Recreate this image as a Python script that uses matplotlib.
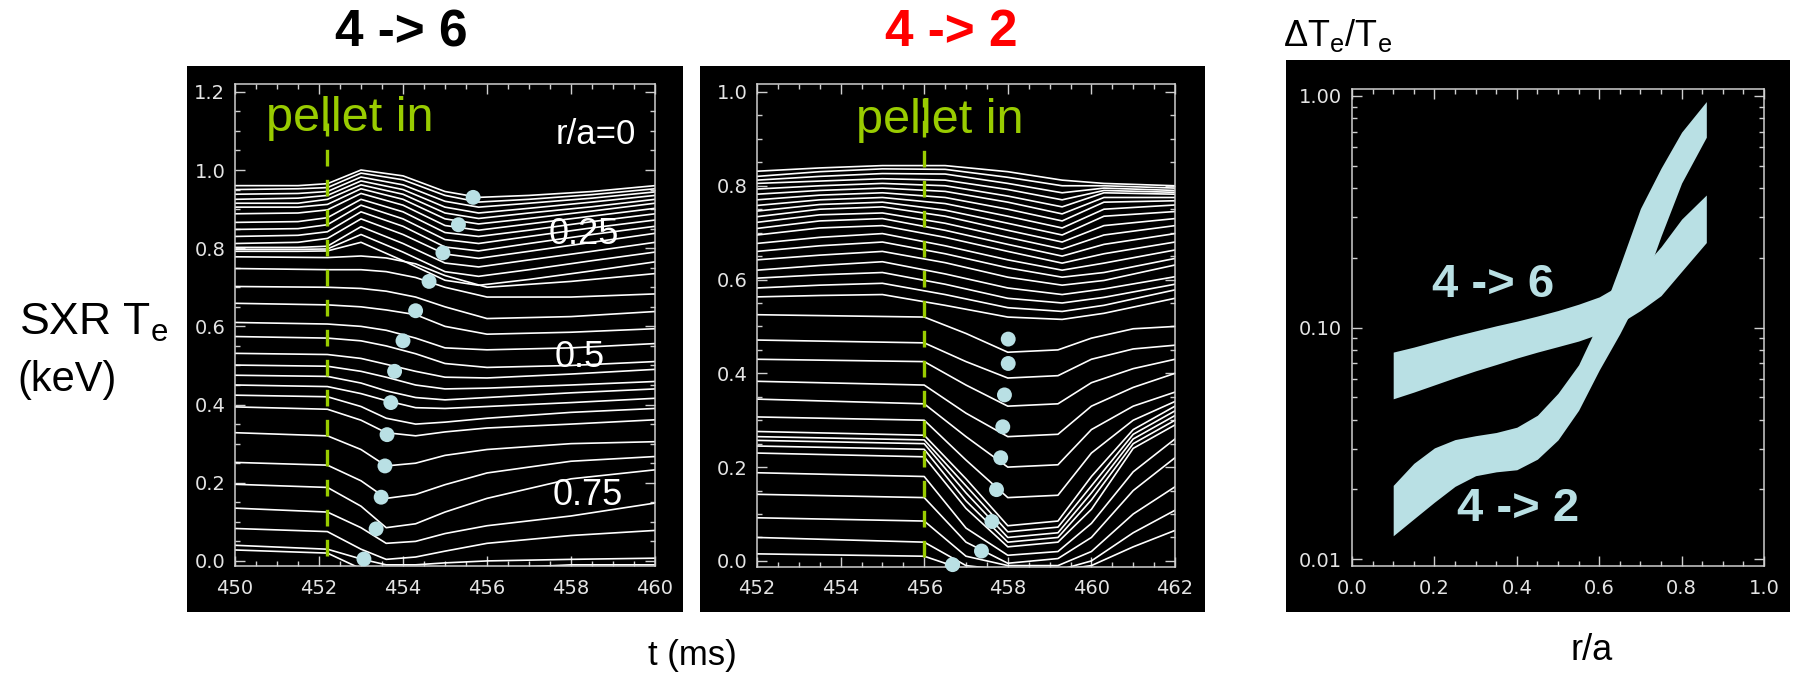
import matplotlib
matplotlib.use("Agg")
import matplotlib.pyplot as plt
from matplotlib.ticker import MultipleLocator, FixedLocator, LogLocator, NullFormatter

plt.rcParams['font.family'] = ['Liberation Sans', 'DejaVu Sans']
plt.rcParams['mathtext.fontset'] = 'custom'
plt.rcParams['mathtext.rm'] = 'Liberation Sans'

# ---- left panel (4 -> 6): SXR Te traces [keV] vs t [ms] ----
t_left_low = [450, 452.2, 453.0, 453.6, 454.3, 455.0, 456.0, 458.0, 460.0]
te_left_low = [
    [0.028, 0.020, -0.020, -0.030, -0.030, -0.030, -0.020, -0.010, -0.010],
    [0.040, 0.030, 0.005, -0.010, -0.010, -0.005, 0.000, 0.004, 0.007],
    [0.083, 0.075, 0.030, 0.004, 0.010, 0.025, 0.045, 0.065, 0.078],
    [0.135, 0.125, 0.085, 0.045, 0.050, 0.070, 0.090, 0.115, 0.148],
    [0.196, 0.188, 0.140, 0.085, 0.095, 0.125, 0.160, 0.210, 0.233],
    [0.252, 0.245, 0.205, 0.160, 0.170, 0.195, 0.225, 0.255, 0.267],
    [0.328, 0.320, 0.285, 0.243, 0.250, 0.270, 0.285, 0.300, 0.305],
    [0.394, 0.388, 0.360, 0.328, 0.320, 0.330, 0.340, 0.350, 0.361],
    [0.424, 0.420, 0.395, 0.365, 0.350, 0.355, 0.365, 0.380, 0.390],
    [0.450, 0.446, 0.428, 0.410, 0.392, 0.390, 0.395, 0.405, 0.416],
    [0.475, 0.472, 0.455, 0.435, 0.418, 0.412, 0.418, 0.430, 0.440],
    [0.501, 0.498, 0.485, 0.470, 0.450, 0.440, 0.442, 0.450, 0.459],
    [0.531, 0.528, 0.518, 0.503, 0.485, 0.470, 0.468, 0.478, 0.490],
    [0.574, 0.570, 0.563, 0.550, 0.530, 0.505, 0.495, 0.500, 0.510],
    [0.610, 0.606, 0.600, 0.590, 0.570, 0.545, 0.540, 0.545, 0.556],
    [0.659, 0.655, 0.650, 0.642, 0.630, 0.600, 0.580, 0.585, 0.594],
    [0.702, 0.700, 0.697, 0.690, 0.675, 0.650, 0.620, 0.625, 0.638],
    [0.748, 0.745, 0.745, 0.740, 0.725, 0.700, 0.675, 0.675, 0.683],
    [0.778, 0.776, 0.780, 0.775, 0.760, 0.730, 0.700, 0.715, 0.735],
]
t_left_up = [450, 451.5, 452.2, 453.0, 454.0, 455.0, 455.8, 457.0, 458.5, 460.0]
te_left_up = [
    [0.960, 0.960, 0.965, 1.000, 0.985, 0.945, 0.930, 0.935, 0.945, 0.960],
    [0.950, 0.952, 0.955, 0.992, 0.975, 0.935, 0.918, 0.925, 0.937, 0.952],
    [0.938, 0.940, 0.945, 0.982, 0.962, 0.920, 0.905, 0.915, 0.928, 0.944],
    [0.925, 0.928, 0.935, 0.972, 0.950, 0.905, 0.890, 0.902, 0.918, 0.935],
    [0.915, 0.915, 0.925, 0.962, 0.938, 0.890, 0.876, 0.890, 0.906, 0.925],
    [0.905, 0.905, 0.912, 0.952, 0.925, 0.875, 0.862, 0.876, 0.895, 0.915],
    [0.888, 0.890, 0.898, 0.940, 0.910, 0.858, 0.846, 0.862, 0.882, 0.902],
    [0.866, 0.868, 0.878, 0.925, 0.893, 0.840, 0.830, 0.846, 0.868, 0.888],
    [0.848, 0.850, 0.860, 0.910, 0.875, 0.822, 0.812, 0.830, 0.852, 0.872],
    [0.830, 0.833, 0.842, 0.893, 0.856, 0.803, 0.793, 0.812, 0.835, 0.856],
    [0.812, 0.815, 0.825, 0.875, 0.835, 0.785, 0.774, 0.792, 0.815, 0.838],
    [0.802, 0.802, 0.805, 0.855, 0.812, 0.762, 0.752, 0.770, 0.792, 0.815],
    [0.797, 0.797, 0.798, 0.835, 0.790, 0.740, 0.728, 0.745, 0.768, 0.790],
    [0.792, 0.792, 0.793, 0.815, 0.768, 0.718, 0.705, 0.720, 0.742, 0.765],
]
dot_t_left = [453.07, 453.36, 453.48, 453.57, 453.62, 453.71, 453.80, 454.00,
              454.30, 454.62, 454.95, 455.32, 455.67]
dot_te_left = [0.005, 0.082, 0.163, 0.243, 0.323, 0.405, 0.485, 0.563,
               0.640, 0.715, 0.788, 0.860, 0.930]
pellet_left = 452.2

# ---- middle panel (4 -> 2) ----
t_mid_low = [452, 456.0, 457.0, 458.0, 459.2, 460.0, 461.0, 462.0]
te_mid_low = [
    [0.525, 0.520, 0.485, 0.445, 0.450, 0.475, 0.495, 0.500],
    [0.471, 0.465, 0.425, 0.390, 0.395, 0.430, 0.452, 0.460],
    [0.430, 0.425, 0.375, 0.330, 0.335, 0.380, 0.410, 0.430],
    [0.383, 0.375, 0.315, 0.265, 0.270, 0.330, 0.370, 0.400],
    [0.345, 0.335, 0.265, 0.200, 0.205, 0.280, 0.330, 0.360],
    [0.307, 0.300, 0.215, 0.135, 0.140, 0.230, 0.300, 0.340],
    [0.276, 0.268, 0.175, 0.075, 0.085, 0.180, 0.280, 0.330],
    [0.265, 0.258, 0.160, 0.062, 0.072, 0.160, 0.270, 0.320],
    [0.257, 0.250, 0.145, 0.050, 0.060, 0.145, 0.260, 0.310],
    [0.245, 0.238, 0.128, 0.040, 0.050, 0.130, 0.250, 0.300],
    [0.230, 0.222, 0.112, 0.030, 0.040, 0.110, 0.240, 0.290],
    [0.188, 0.180, 0.070, 0.012, 0.020, 0.080, 0.190, 0.260],
    [0.142, 0.135, 0.040, -0.005, 0.005, 0.050, 0.150, 0.220],
    [0.092, 0.085, 0.010, -0.010, -0.010, 0.020, 0.100, 0.158],
    [0.050, 0.040, -0.010, -0.020, -0.020, 0.000, 0.060, 0.108],
    [0.015, 0.010, -0.020, -0.020, -0.020, -0.010, 0.030, 0.065],
]
t_mid_up = [452, 453.5, 455.0, 456.5, 458.0, 459.3, 460.3, 462.0]
te_mid_up = [
    [0.831, 0.838, 0.843, 0.843, 0.830, 0.812, 0.805, 0.800],
    [0.820, 0.830, 0.836, 0.835, 0.818, 0.800, 0.800, 0.795],
    [0.812, 0.820, 0.826, 0.825, 0.805, 0.785, 0.795, 0.790],
    [0.805, 0.810, 0.815, 0.812, 0.792, 0.770, 0.790, 0.786],
    [0.793, 0.800, 0.805, 0.800, 0.778, 0.755, 0.785, 0.782],
    [0.782, 0.790, 0.795, 0.788, 0.765, 0.740, 0.775, 0.775],
    [0.770, 0.780, 0.785, 0.775, 0.750, 0.725, 0.765, 0.768],
    [0.758, 0.770, 0.775, 0.762, 0.735, 0.710, 0.750, 0.759],
    [0.746, 0.760, 0.765, 0.748, 0.720, 0.695, 0.735, 0.745],
    [0.734, 0.750, 0.755, 0.735, 0.705, 0.680, 0.715, 0.730],
    [0.722, 0.738, 0.742, 0.720, 0.690, 0.665, 0.695, 0.715],
    [0.709, 0.725, 0.730, 0.705, 0.675, 0.650, 0.675, 0.698],
    [0.695, 0.710, 0.715, 0.690, 0.660, 0.635, 0.655, 0.680],
    [0.677, 0.690, 0.698, 0.672, 0.642, 0.620, 0.635, 0.663],
    [0.660, 0.672, 0.680, 0.655, 0.625, 0.605, 0.615, 0.645],
    [0.642, 0.652, 0.660, 0.636, 0.605, 0.588, 0.598, 0.631],
    [0.620, 0.630, 0.638, 0.612, 0.582, 0.568, 0.580, 0.606],
    [0.603, 0.610, 0.615, 0.590, 0.560, 0.550, 0.562, 0.590],
    [0.582, 0.588, 0.592, 0.568, 0.540, 0.532, 0.545, 0.578],
    [0.563, 0.566, 0.568, 0.545, 0.520, 0.515, 0.528, 0.560],
]
dot_t_mid = [456.68, 457.37, 457.62, 457.73, 457.83, 457.88, 457.92, 458.01, 458.01]
dot_te_mid = [-0.008, 0.021, 0.084, 0.152, 0.220, 0.286, 0.354, 0.421, 0.473]
pellet_mid = 456.0

# ---- right panel: dTe/Te vs r/a ----
ra = [0.10, 0.15, 0.20, 0.25, 0.30, 0.35, 0.40, 0.45, 0.50, 0.55, 0.60,
      0.65, 0.70, 0.75, 0.80, 0.86]
d46_hi = [0.0783, 0.0823, 0.0870, 0.0919, 0.0967, 0.1017, 0.1065, 0.1121,
          0.1184, 0.1261, 0.1356, 0.1526, 0.1769, 0.2232, 0.2938, 0.3736]
d46_lo = [0.0492, 0.0526, 0.0565, 0.0607, 0.0650, 0.0692, 0.0738, 0.0783,
          0.0827, 0.0874, 0.0939, 0.1043, 0.1184, 0.1373, 0.1747, 0.2328]
d42_hi = [0.0208, 0.0259, 0.0302, 0.0328, 0.0341, 0.0352, 0.0371, 0.0418,
          0.0520, 0.0690, 0.1065, 0.1845, 0.3265, 0.4877, 0.6980, 0.9462]
d42_lo = [0.0126, 0.0149, 0.0176, 0.0206, 0.0229, 0.0238, 0.0243, 0.0270,
          0.0327, 0.0439, 0.0655, 0.0940, 0.1402, 0.2480, 0.4206, 0.6637]

LB = '#b9e0e4'
GREEN = '#99cc00'
W, H = 1796, 673

fig = plt.figure(figsize=(W / 100, H / 100), dpi=100)
fig.patch.set_facecolor('white')


def px(x0, y0, x1, y1):
    return [x0 / W, 1 - y1 / H, (x1 - x0) / W, (y1 - y0) / H]


# black picture backgrounds behind each panel
for b in [(187, 66, 683, 612), (700, 66, 1205, 612), (1286, 60, 1790, 612)]:
    bg = fig.add_axes(px(*b), zorder=-10)
    bg.set_facecolor('black')
    bg.set_xticks([])
    bg.set_yticks([])
    for s in bg.spines.values():
        s.set_visible(False)


def idl_axes(ax):
    ax.set_facecolor('black')
    for s in ax.spines.values():
        s.set_color('#cfcfcf')
        s.set_linewidth(1.1)
    ax.tick_params(which='both', direction='in', top=True, right=True,
                   colors='#cfcfcf', labelcolor='#e4e4e4', width=1.0)
    ax.tick_params(which='major', length=7)
    ax.tick_params(which='minor', length=3.5)
    ax.tick_params(axis='x', pad=9)
    ax.tick_params(axis='y', pad=7)
    for lab in ax.get_xticklabels() + ax.get_yticklabels():
        lab.set_family('DejaVu Sans')
        lab.set_fontsize(14)


# left
ax1 = fig.add_axes(px(235, 84, 655, 566))
for v in te_left_low:
    ax1.plot(t_left_low, v, color='white', lw=1.2)
for v in te_left_up:
    ax1.plot(t_left_up, v, color='white', lw=1.2)
ax1.axvline(pellet_left, ymin=0.02, ymax=0.92, color=GREEN, lw=2.4, dashes=(5, 4))
ax1.scatter(dot_t_left, dot_te_left, s=115, color=LB, zorder=5, clip_on=False,
            edgecolors='none')
ax1.set_xlim(450, 460)
ax1.set_ylim(-0.013, 1.22)
ax1.xaxis.set_major_locator(MultipleLocator(2))
ax1.xaxis.set_minor_locator(MultipleLocator(0.5))
ax1.yaxis.set_major_locator(FixedLocator([0, 0.2, 0.4, 0.6, 0.8, 1.0, 1.2]))
ax1.yaxis.set_minor_locator(MultipleLocator(0.05))
ax1.yaxis.set_major_formatter(plt.FormatStrFormatter('%.1f'))
idl_axes(ax1)
ax1.text(450.74, 1.133, 'pellet in', color=GREEN, fontsize=35, va='center', ha='left')
ax1.text(458.6, 1.09, 'r/a=0', color='white', fontsize=25, va='center', ha='center')
ax1.text(458.3, 0.835, '0.25', color='white', fontsize=26, va='center', ha='center')
ax1.text(458.2, 0.52, '0.5', color='white', fontsize=26, va='center', ha='center')
ax1.text(458.4, 0.167, '0.75', color='white', fontsize=26, va='center', ha='center')

# middle
ax2 = fig.add_axes(px(757, 84, 1175, 567))
for v in te_mid_low:
    ax2.plot(t_mid_low, v, color='white', lw=1.2)
for v in te_mid_up:
    ax2.plot(t_mid_up, v, color='white', lw=1.2)
ax2.axvline(pellet_mid, ymin=0.02, ymax=0.97, color=GREEN, lw=2.4, dashes=(5, 4))
ax2.scatter(dot_t_mid, dot_te_mid, s=115, color=LB, zorder=5, clip_on=False,
            edgecolors='none')
ax2.set_xlim(452, 462)
ax2.set_ylim(-0.013, 1.017)
ax2.xaxis.set_major_locator(MultipleLocator(2))
ax2.xaxis.set_minor_locator(MultipleLocator(0.5))
ax2.yaxis.set_major_locator(FixedLocator([0, 0.2, 0.4, 0.6, 0.8, 1.0]))
ax2.yaxis.set_minor_locator(MultipleLocator(0.05))
ax2.yaxis.set_major_formatter(plt.FormatStrFormatter('%.1f'))
idl_axes(ax2)
ax2.text(454.37, 0.94, 'pellet in', color=GREEN, fontsize=35, va='center', ha='left')

# right
ax3 = fig.add_axes(px(1352, 89, 1764, 566))
ax3.set_yscale('log')
ax3.fill_between(ra, d46_lo, d46_hi, color=LB, lw=0)
ax3.fill_between(ra, d42_lo, d42_hi, color=LB, lw=0)
ax3.set_xlim(0, 1)
ax3.set_ylim(0.00933, 1.072)
ax3.xaxis.set_major_locator(MultipleLocator(0.2))
ax3.xaxis.set_minor_locator(MultipleLocator(0.05))
ax3.xaxis.set_major_formatter(plt.FormatStrFormatter('%.1f'))
ax3.yaxis.set_major_locator(FixedLocator([0.01, 0.1, 1.0]))
ax3.yaxis.set_major_formatter(plt.FixedFormatter(['0.01', '0.10', '1.00']))
ax3.yaxis.set_minor_locator(LogLocator(base=10, subs=range(2, 10)))
ax3.yaxis.set_minor_formatter(NullFormatter())
idl_axes(ax3)
ax3.text(0.343, 0.152, '4 -> 6', color=LB, fontsize=34, fontweight='bold',
         ha='center', va='center')
ax3.text(0.404, 0.0165, '4 -> 2', color=LB, fontsize=34, fontweight='bold',
         ha='center', va='center')

# figure labels
fig.text(401 / W, 1 - 33 / H, '4 -> 6', fontsize=37, fontweight='bold',
         color='black', ha='center', va='center')
fig.text(951 / W, 1 - 33 / H, '4 -> 2', fontsize=37, fontweight='bold',
         color='#ff0000', ha='center', va='center')
fig.text(1283 / W, 1 - 35 / H, r'$\Delta$T$_\mathrm{e}$/T$_\mathrm{e}$',
         fontsize=26, ha='left', va='center')
fig.text(19 / W, 1 - 323 / H, r'SXR T$_\mathrm{e}$', fontsize=32, ha='left', va='center')
fig.text(17 / W, 1 - 380 / H, '(keV)', fontsize=30, ha='left', va='center')
fig.text(692 / W, 1 - 656 / H, 't (ms)', fontsize=25, ha='center', va='center')
fig.text(1592 / W, 1 - 651 / H, 'r/a', fontsize=26, ha='center', va='center')

fig.savefig('out.png', dpi=100, facecolor='white')
